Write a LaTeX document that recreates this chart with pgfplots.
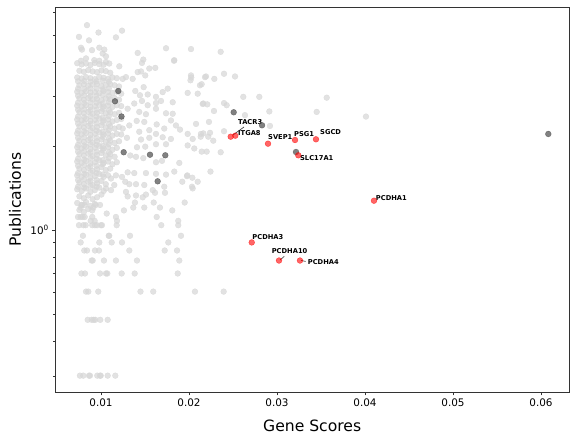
\documentclass[border=0pt]{standalone}
\usepackage{pgfplots}
\pgfplotsset{compat=1.18}
\usepackage{fontspec}
\setmainfont{DejaVu Sans}
\definecolor{spine}{gray}{0.2}
\definecolor{ptgrey}{gray}{0.84}
\begin{document}
\begin{tikzpicture}
\path[use as bounding box] (0,0) rectangle (570bp,435bp);
\begin{axis}[
  at={(55.3bp,43bp)}, anchor=south west,
  scale only axis, width=513.7bp, height=384.7bp,
  xmin=0.00481, xmax=0.06318,
  ymode=log, ymin=0.263, ymax=6.28,
  xtick={0.01,0.02,0.03,0.04,0.05,0.06},
  xticklabels={0.01,0.02,0.03,0.04,0.05,0.06},
  scaled x ticks=false,
  minor x tick num=0,
  ytick={1},
  yticklabels={10\raisebox{0.42em}{\fontsize{7.3bp}{8bp}\selectfont 0}},
  minor ytick={0.3,0.4,0.5,0.6,0.7,0.8,0.9,2,3,4,5,6},
  tick align=outside, tick pos=left,
  major tick length=3.5bp, minor tick length=2bp,
  tick style={spine, line width=0.8bp},
  axis line style={spine, line width=0.8bp},
  ticklabel style={font=\fontsize{10.4bp}{12bp}\selectfont},
  xlabel={Gene Scores}, ylabel={Publications},
  label style={font=\fontsize{15.6bp}{18bp}\selectfont},
  xlabel style={at={(axis description cs:0.5,-0.087)}, anchor=center},
  ylabel style={at={(axis description cs:-0.0785,0.5)}, anchor=center},
]
% grey points
\addplot[only marks, mark=*, mark size=2.9bp, mark options={fill=ptgrey, draw=ptgrey, line width=0.4bp, fill opacity=0.7, draw opacity=0.7}] table[row sep=\\] {
x y\\
0.00841 5.42\\ 0.00972 5.10\\ 0.01239 5.18\\ 0.01170 4.90\\ 0.00750 4.92\\ 0.00864 4.78\\
0.00773 4.50\\ 0.00784 4.43\\ 0.00898 4.41\\ 0.00981 4.50\\ 0.01038 4.43\\ 0.01019 4.29\\
0.01057 4.19\\ 0.01739 4.48\\ 0.02023 4.45\\ 0.01417 4.31\\ 0.00773 4.04\\ 0.00830 4.12\\
0.00924 4.06\\ 0.00981 4.04\\ 0.01057 4.00\\ 0.01094 3.95\\ 0.01481 4.08\\ 0.01466 3.97\\
0.01833 4.06\\ 0.01208 3.86\\ 0.01549 3.79\\ 0.01617 3.81\\ 0.01417 3.68\\ 0.01455 3.70\\
0.01503 3.58\\ 0.02023 3.58\\ 0.02017 3.44\\ 0.02182 3.53\\ 0.01360 3.48\\ 0.01284 3.53\\
0.01247 3.48\\ 0.01485 3.25\\ 0.01390 3.15\\ 0.01443 3.04\\ 0.01531 3.06\\ 0.01625 3.00\\
0.01701 3.12\\ 0.01758 3.21\\ 0.02125 3.30\\ 0.01985 3.10\\ 0.02099 3.08\\ 0.01378 2.84\\
0.01466 2.90\\ 0.01531 2.80\\ 0.01625 2.85\\ 0.01682 2.90\\ 0.01815 2.87\\ 0.02156 2.83\\
0.01303 2.72\\ 0.01435 2.65\\ 0.01511 2.60\\ 0.01625 2.72\\ 0.01739 2.62\\ 0.01815 2.61\\
0.02080 2.40\\ 0.01406 2.46\\ 0.01492 2.44\\ 0.01633 2.39\\ 0.01719 2.31\\ 0.01795 2.47\\
0.01852 2.37\\ 0.01898 2.29\\ 0.01985 2.21\\ 0.02136 2.21\\ 0.01247 2.31\\ 0.01322 2.37\\
0.01435 2.25\\ 0.01549 2.28\\ 0.01625 2.21\\ 0.02360 4.35\\ 0.02193 3.55\\ 0.02288 3.48\\
0.02398 3.63\\ 0.02523 3.55\\ 0.02144 3.33\\ 0.02617 3.00\\ 0.02799 3.00\\ 0.03565 2.98\\
0.02163 2.84\\ 0.02208 2.82\\ 0.02398 2.85\\ 0.02428 2.80\\ 0.02284 2.67\\ 0.02636 2.58\\
0.02913 2.66\\ 0.03451 2.65\\ 0.02227 2.44\\ 0.02398 2.26\\ 0.02920 2.36\\ 0.02239 2.23\\
0.04011 2.55\\ 0.02163 2.22\\ 0.02133 2.16\\ 0.02276 2.09\\ 0.02144 1.91\\ 0.02201 1.91\\
0.02360 1.90\\ 0.02244 1.62\\ 0.01830 4.04\\ 0.02026 3.52\\ 0.02219 2.16\\ 0.02038 1.54\\
0.01981 1.57\\ 0.01924 1.49\\ 0.02042 1.41\\ 0.01295 2.14\\ 0.01455 2.11\\ 0.01549 2.14\\
0.01701 2.15\\ 0.01795 2.12\\ 0.02042 2.12\\ 0.01985 2.01\\ 0.02060 1.96\\ 0.01409 1.98\\
0.01503 1.99\\ 0.01625 2.03\\ 0.01739 2.03\\ 0.01333 1.85\\ 0.01398 1.83\\ 0.01481 1.81\\
0.01625 1.75\\ 0.01693 1.77\\ 0.01890 1.74\\ 0.01833 1.62\\ 0.01977 1.56\\ 0.02099 1.49\\
0.02034 1.43\\ 0.01511 1.60\\ 0.01625 1.59\\ 0.01739 1.58\\ 0.01303 1.61\\ 0.01378 1.60\\
0.01239 1.55\\ 0.01276 1.49\\ 0.01322 1.46\\ 0.01398 1.46\\ 0.01492 1.45\\ 0.01588 1.39\\
0.01719 1.43\\ 0.01170 1.57\\ 0.01114 1.53\\ 0.01151 1.45\\ 0.01057 1.41\\ 0.01114 1.39\\
0.01284 1.37\\ 0.01303 1.32\\ 0.01398 1.33\\ 0.01474 1.31\\ 0.01511 1.34\\ 0.01614 1.36\\
0.01727 1.36\\
0.0073 3.96\\ 0.0078 3.92\\ 0.0083 3.95\\ 0.0088 3.90\\ 0.0093 3.97\\ 0.0098 3.93\\ 0.0103 3.91\\
0.00755 3.72\\ 0.00805 3.69\\ 0.00855 3.74\\ 0.00905 3.70\\ 0.00955 3.68\\ 0.01005 3.73\\ 0.01055 3.71\\ 0.01105 3.66\\
0.0073 3.52\\ 0.0078 3.49\\ 0.0083 3.53\\ 0.0088 3.50\\ 0.0093 3.47\\ 0.0098 3.54\\ 0.0103 3.51\\ 0.0108 3.48\\ 0.0113 3.52\\ 0.0118 3.50\\
0.00755 3.30\\ 0.00805 3.33\\ 0.00855 3.29\\ 0.00905 3.32\\ 0.00955 3.34\\ 0.01005 3.28\\ 0.01055 3.31\\ 0.01105 3.33\\ 0.01155 3.30\\ 0.01205 3.27\\
0.0073 3.13\\ 0.0078 3.10\\ 0.0083 3.14\\ 0.0088 3.11\\ 0.0093 3.12\\ 0.0098 3.09\\ 0.0103 3.15\\ 0.0108 3.12\\ 0.0113 3.10\\ 0.0118 3.13\\ 0.0123 3.08\\
0.00755 2.96\\ 0.00805 2.93\\ 0.00855 2.97\\ 0.00905 2.94\\ 0.00955 2.95\\ 0.01005 2.92\\ 0.01055 2.96\\ 0.01105 2.94\\ 0.01155 2.97\\ 0.01205 2.93\\
0.0073 2.79\\ 0.0078 2.77\\ 0.0083 2.80\\ 0.0088 2.76\\ 0.0093 2.78\\ 0.0098 2.81\\ 0.0103 2.77\\ 0.0108 2.79\\ 0.0113 2.76\\ 0.0118 2.80\\ 0.0123 2.78\\
0.00755 2.64\\ 0.00805 2.62\\ 0.00855 2.65\\ 0.00905 2.61\\ 0.00955 2.63\\ 0.01005 2.66\\ 0.01055 2.62\\ 0.01105 2.64\\ 0.01155 2.60\\ 0.01205 2.63\\
0.0073 2.49\\ 0.0078 2.47\\ 0.0083 2.50\\ 0.0088 2.46\\ 0.0093 2.48\\ 0.0098 2.51\\ 0.0103 2.47\\ 0.0108 2.49\\ 0.0113 2.45\\ 0.0118 2.48\\ 0.0123 2.50\\
0.00755 2.35\\ 0.00805 2.33\\ 0.00855 2.36\\ 0.00905 2.32\\ 0.00955 2.34\\ 0.01005 2.37\\ 0.01055 2.33\\ 0.01105 2.35\\ 0.01155 2.31\\ 0.01205 2.34\\
0.0073 2.22\\ 0.0078 2.20\\ 0.0083 2.23\\ 0.0088 2.19\\ 0.0093 2.21\\ 0.0098 2.24\\ 0.0103 2.20\\ 0.0108 2.22\\ 0.0113 2.18\\ 0.0118 2.21\\ 0.0123 2.20\\
0.00755 2.09\\ 0.00805 2.07\\ 0.00855 2.10\\ 0.00905 2.06\\ 0.00955 2.08\\ 0.01005 2.11\\ 0.01055 2.07\\ 0.01105 2.09\\ 0.01155 2.05\\ 0.01205 2.08\\
0.0073 1.98\\ 0.0078 1.96\\ 0.0083 1.99\\ 0.0088 1.95\\ 0.0093 1.97\\ 0.0098 2.00\\ 0.0103 1.96\\ 0.0108 1.98\\ 0.0113 1.94\\ 0.0118 1.97\\
0.00755 1.87\\ 0.00805 1.85\\ 0.00855 1.88\\ 0.00905 1.84\\ 0.00955 1.86\\ 0.01005 1.89\\ 0.01055 1.85\\ 0.01105 1.87\\ 0.01155 1.83\\
0.0073 1.76\\ 0.0078 1.74\\ 0.0083 1.77\\ 0.0088 1.73\\ 0.0093 1.75\\ 0.0098 1.78\\ 0.0103 1.74\\ 0.0108 1.76\\ 0.0113 1.72\\ 0.0118 1.75\\
0.00755 1.66\\ 0.00805 1.64\\ 0.00855 1.67\\ 0.00905 1.63\\ 0.00955 1.65\\ 0.01005 1.68\\ 0.01055 1.64\\ 0.01105 1.66\\
0.0073 1.57\\ 0.0078 1.55\\ 0.0083 1.58\\ 0.0088 1.54\\ 0.0093 1.56\\ 0.0098 1.59\\ 0.0103 1.55\\ 0.0108 1.57\\
0.00755 1.48\\ 0.00805 1.46\\ 0.00855 1.49\\ 0.00905 1.45\\ 0.00955 1.47\\ 0.01005 1.50\\ 0.01055 1.46\\
0.0073 1.40\\ 0.0078 1.38\\ 0.0083 1.41\\ 0.0088 1.37\\ 0.0093 1.39\\ 0.0098 1.42\\ 0.0103 1.38\\
0.00755 1.32\\ 0.00805 1.30\\ 0.00855 1.33\\ 0.00905 1.29\\ 0.00955 1.31\\ 0.01005 1.34\\
0.0073 1.25\\ 0.0078 1.23\\ 0.0083 1.26\\ 0.0088 1.22\\ 0.0093 1.24\\
0.00755 1.18\\ 0.00805 1.16\\ 0.00855 1.19\\
0.0074 3.41\\ 0.0081 3.42\\ 0.0088 3.40\\ 0.0095 3.41\\ 0.0102 3.43\\ 0.0109 3.40\\
0.0074 3.21\\ 0.0081 3.20\\ 0.0088 3.22\\ 0.0095 3.21\\ 0.0102 3.19\\ 0.0109 3.22\\
0.0074 3.03\\ 0.0081 3.04\\ 0.0088 3.02\\ 0.0095 3.03\\ 0.0102 3.05\\ 0.0109 3.02\\
0.0074 2.86\\ 0.0081 2.85\\ 0.0088 2.87\\ 0.0095 2.86\\ 0.0102 2.84\\ 0.0109 2.87\\
0.0074 2.70\\ 0.0081 2.71\\ 0.0088 2.69\\ 0.0095 2.70\\ 0.0102 2.72\\ 0.0109 2.69\\
0.0074 2.55\\ 0.0081 2.54\\ 0.0088 2.56\\ 0.0095 2.55\\ 0.0102 2.53\\ 0.0109 2.56\\
0.0074 2.41\\ 0.0081 2.42\\ 0.0088 2.40\\ 0.0095 2.41\\ 0.0102 2.43\\ 0.0109 2.40\\
0.0074 2.27\\ 0.0081 2.26\\ 0.0088 2.28\\ 0.0095 2.27\\ 0.0102 2.25\\ 0.0109 2.28\\
0.0074 2.14\\ 0.0081 2.15\\ 0.0088 2.13\\ 0.0095 2.14\\ 0.0102 2.16\\ 0.0109 2.13\\
0.0074 2.02\\ 0.0081 2.01\\ 0.0088 2.03\\ 0.0095 2.02\\ 0.0102 2.00\\ 0.0109 2.03\\
0.0074 1.91\\ 0.0081 1.92\\ 0.0088 1.90\\ 0.0095 1.91\\ 0.0102 1.93\\ 0.0109 1.90\\
0.0074 1.80\\ 0.0081 1.79\\ 0.0088 1.81\\ 0.0095 1.80\\ 0.0102 1.78\\ 0.0109 1.81\\
0.0074 1.70\\ 0.0081 1.71\\ 0.0088 1.69\\ 0.0095 1.70\\ 0.0102 1.72\\
0.0074 1.60\\ 0.0081 1.59\\ 0.0088 1.61\\ 0.0095 1.60\\ 0.0102 1.58\\
0.0074 1.51\\ 0.0081 1.52\\ 0.0088 1.50\\ 0.0095 1.51\\
0.0074 1.43\\ 0.0081 1.42\\ 0.0088 1.44\\ 0.0095 1.43\\
0.00781 1.230\\ 0.00815 1.230\\ 0.00940 1.230\\ 0.00989 1.230\\
0.01386 1.255\\ 0.01599 1.255\\ 0.01951 1.255\\
0.00769 1.204\\ 0.00913 1.204\\ 0.01367 1.204\\ 0.01492 1.204\\ 0.01670 1.204\\
0.00901 1.176\\ 0.01261 1.176\\ 0.01810 1.176\\
0.01065 1.146\\
0.00739 1.114\\ 0.00769 1.114\\ 0.00792 1.114\\ 0.00815 1.114\\ 0.00901 1.114\\ 0.01170 1.114\\ 0.01633 1.114\\
0.00883 1.079\\ 0.00928 1.079\\ 0.01182 1.079\\ 0.01878 1.079\\
0.00750 1.041\\ 0.00800 1.041\\ 0.00826 1.041\\ 0.00901 1.041\\ 0.00932 1.041\\ 0.00955 1.041\\ 0.01000 1.041\\ 0.01011 1.041\\ 0.01178 1.041\\ 0.01685 1.041\\ 0.01878 1.041\\
0.00795 0.954\\ 0.01088 0.954\\ 0.01094 0.954\\ 0.01330 0.954\\ 0.01909 0.954\\
0.00769 0.903\\ 0.00981 0.903\\ 0.01122 0.903\\ 0.01239 0.903\\ 0.01765 0.903\\
0.00810 0.845\\ 0.00841 0.845\\ 0.00932 0.845\\ 0.00977 0.845\\ 0.01322 0.845\\ 0.01724 0.845\\ 0.01864 0.845\\
0.00894 0.778\\ 0.00906 0.778\\ 0.01034 0.778\\ 0.01170 0.778\\ 0.01409 0.778\\ 0.01890 0.778\\
0.00778 0.699\\ 0.00818 0.699\\ 0.00989 0.699\\ 0.01057 0.699\\ 0.01072 0.699\\ 0.01235 0.699\\ 0.01383 0.699\\ 0.01872 0.699\\
0.00830 0.602\\ 0.00856 0.602\\ 0.00969 0.602\\ 0.01449 0.602\\ 0.01594 0.602\\ 0.02068 0.602\\ 0.02394 0.602\\
0.00849 0.477\\ 0.00894 0.477\\ 0.00917 0.477\\ 0.00935 0.477\\ 0.00992 0.477\\ 0.01076 0.477\\
0.00761 0.301\\ 0.00799 0.301\\ 0.00864 0.301\\ 0.00875 0.301\\ 0.00958 0.301\\ 0.00989 0.301\\ 0.00997 0.301\\ 0.01076 0.301\\ 0.01163 0.301\\
};
% dark grey points
\addplot[only marks, mark=*, mark size=2.9bp, mark options={fill=black!70, draw=black!70, line width=0.4bp, fill opacity=0.7, draw opacity=0.7}] table[row sep=\\] {
x y\\
0.02508 2.642\\ 0.02830 2.373\\ 0.03216 1.904\\ 0.06083 2.209\\ 0.01197 3.149\\ 0.01159 2.893\\
0.01233 2.551\\ 0.01258 1.900\\ 0.01557 1.862\\ 0.01731 1.853\\ 0.01644 1.495\\
};
% red highlighted genes
\addplot[only marks, mark=*, mark size=2.9bp, mark options={fill=red, draw=red, line width=0.4bp, fill opacity=0.6, draw opacity=0.6}] table[row sep=\\] {
x y\\
0.02474 2.160\\ 0.02526 2.178\\ 0.02898 2.039\\ 0.03205 2.102\\ 0.03443 2.114\\ 0.03242 1.853\\
0.04102 1.274\\ 0.02713 0.903\\ 0.03023 0.778\\ 0.03261 0.778\\
};
\draw[black!80, line width=0.6bp] (axis cs:0.02500,2.19) -- (axis cs:0.02625,2.34);
\draw[black!80, line width=0.6bp] (axis cs:0.03034,0.781) -- (axis cs:0.03083,0.805);
\draw[black!80, line width=0.6bp] (axis cs:0.03273,0.779) -- (axis cs:0.03326,0.772);
\begin{scope}[every node/.style={anchor=west, inner sep=0pt, font=\fontsize{6.7bp}{8bp}\selectfont\bfseries}]
\node at (axis cs:0.02557,2.438) {TACR3};
\node at (axis cs:0.02557,2.227) {ITGA8};
\node at (axis cs:0.02898,2.149) {SVEP1};
\node at (axis cs:0.03193,2.214) {PSG1};
\node at (axis cs:0.03489,2.240) {SGCD};
\node at (axis cs:0.03261,1.816) {SLC17A1};
\node at (axis cs:0.04122,1.305) {PCDHA1};
\node at (axis cs:0.02719,0.946) {PCDHA3};
\node at (axis cs:0.02939,0.841) {PCDHA10};
\node at (axis cs:0.03349,0.768) {PCDHA4};
\end{scope}
\end{axis}
\end{tikzpicture}
\end{document}
